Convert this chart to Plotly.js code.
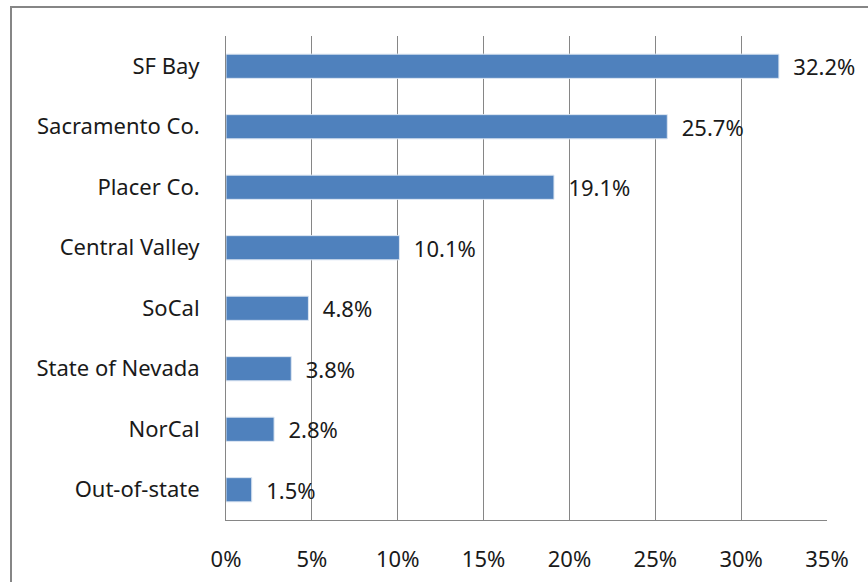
<!DOCTYPE html>
<html>
<head>
<meta charset="utf-8">
<script src="https://cdn.plot.ly/plotly-3.0.1.min.js"></script>
<style>
html,body{margin:0;padding:0;width:868px;height:582px;overflow:hidden;background:#fff;}
#chart{position:absolute;left:0;top:0;width:868px;height:582px;}
#frame{position:absolute;left:10px;top:6px;width:900px;height:620px;border:2px solid #868686;box-sizing:border-box;pointer-events:none;}
</style>
</head>
<body>
<div id="chart"></div>
<div id="frame"></div>
<script>
const categories = ["SF Bay", "Sacramento Co.", "Placer Co.", "Central Valley", "SoCal", "State of Nevada", "NorCal", "Out-of-state"];
const values = [32.2, 25.7, 19.1, 10.1, 4.8, 3.8, 2.8, 1.5];
const tickVals = [0, 5, 10, 15, 20, 25, 30, 35];
const tickLabels = ["0%", "5%", "10%", "15%", "20%", "25%", "30%", "35%"];

const trace = {
  type: "bar",
  orientation: "h",
  y: categories,
  x: values,
  marker: {color: "#4F81BD", line: {color: "#DCE6F2", width: 1}},
  text: values.map(v => "\u00a0\u00a0" + v.toFixed(1) + "%"),
  textposition: "outside",
  constraintext: "none",
  cliponaxis: false,
  textfont: {family: "Noto Sans, sans-serif", size: 22, color: "#1a1a1a"},
  hoverinfo: "none"
};

const layout = {
  width: 868, height: 582,
  margin: {l: 226, r: 41, t: 36, b: 62},
  paper_bgcolor: "#fff", plot_bgcolor: "#fff",
  showlegend: false,
  bargap: 0.6,
  font: {family: "Noto Sans, sans-serif", size: 22, color: "#1a1a1a"},
  xaxis: {
    range: [0, 35], tickvals: tickVals, ticktext: tickLabels,
    showgrid: true, gridcolor: "#868686", gridwidth: 1,
    showline: true, linecolor: "#868686", linewidth: 1,
    zeroline: false, ticks: "", ticklabelstandoff: 20,
    fixedrange: true
  },
  yaxis: {
    categoryorder: "array", categoryarray: categories.slice().reverse(),
    autorange: false, range: [-0.5, 7.5],
    showgrid: false, showline: true, linecolor: "#868686", linewidth: 1,
    zeroline: false, ticks: "", ticklabelstandoff: 21,
    fixedrange: true
  }
};

Plotly.newPlot("chart", [trace], layout, {staticPlot: true, displayModeBar: false});
</script>
</body>
</html>
